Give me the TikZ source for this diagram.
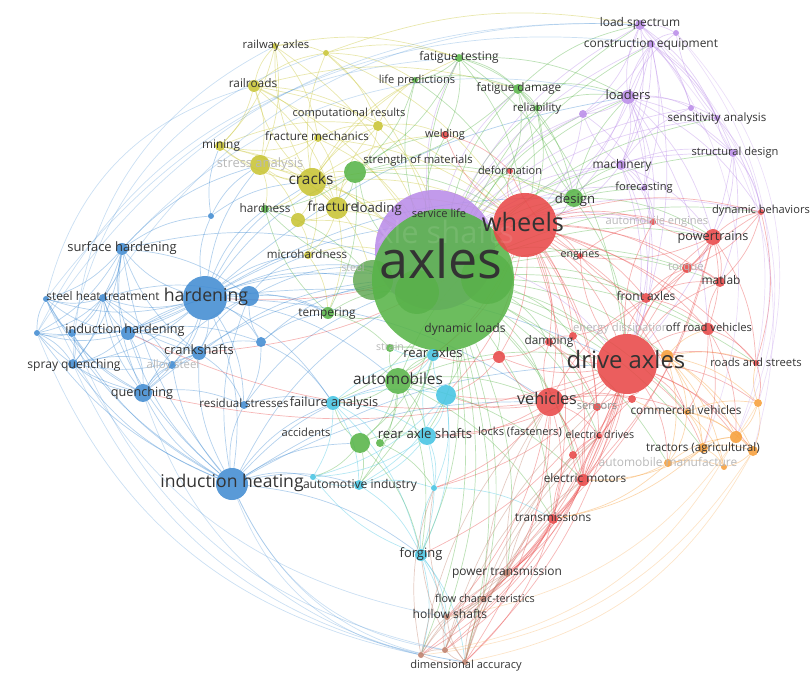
\documentclass[tikz,border=0pt]{standalone}
\usepackage{fontspec}
\setmainfont{Open Sans}
\usepackage{xcolor}
\definecolor{vgreen}{RGB}{88,180,72}
\definecolor{vred}{RGB}{232,72,72}
\definecolor{vblue}{RGB}{66,140,210}
\definecolor{vyellow}{RGB}{200,196,52}
\definecolor{vpurple}{RGB}{186,140,232}
\definecolor{vcyan}{RGB}{70,196,226}
\definecolor{vorange}{RGB}{246,158,58}
\definecolor{vbrown}{RGB}{190,126,106}
\usepackage{tikz}
\usetikzlibrary{backgrounds}

\begin{document}
\begin{tikzpicture}[x=0.025cm, y=-0.025cm,
    every node/.style={inner sep=0pt},
    kw/.style={circle, fill=#1, fill opacity=0.88, draw=none},
    sub/.style={circle, fill=vgreen!88!black, fill opacity=0.75, draw=none},
    lbl/.style={font=\fontsize{#1}{#1}\selectfont, text=black!80,
                text height=1.2ex, text depth=0.2ex},
    lbl/.default=8.4,
    dim/.style={text=black!28},
    link/.style={draw=#1, line width=0.5pt, draw opacity=0.4},
    arc/.style={draw=#1, line width=0.5pt, draw opacity=0.28},
]
\useasboundingbox (0,0) rectangle (811,675);

% ---- Big bubbles ----
\node[kw=vpurple, minimum size=3.0cm] (axshafts) at (435,250) {};
\node[sub, minimum size=1.0cm] (g1) at (373,280) {};
\node[sub, minimum size=1.1cm] (g2) at (417,292) {};
\node[sub, minimum size=1.3cm] (g3) at (487,278) {};
\node[kw=vgreen,  minimum size=3.55cm] (axles) at (443,280) {};
\node[kw=vred, minimum size=1.6cm] (wheels)  at (525,225) {};
\node[kw=vred, minimum size=1.5cm] (driveax) at (627,364) {};

% ---- Blue cluster ----
\node[kw=vblue, minimum size=1.1cm]  (hardening) at (205,298) {};
\node[kw=vblue, minimum size=0.8cm]  (indheat)   at (232,484) {};
\node[kw=vblue, minimum size=0.5cm]  (b1)        at (249,296) {};
\node[kw=vblue, minimum size=0.3cm]  (surfh)     at (122,249) {};
\node[kw=vblue, minimum size=0.2cm]  (sht)       at (103,298) {};
\node[kw=vblue, minimum size=0.15cm] (heat)      at (46,299) {};
\node[kw=vblue, minimum size=0.15cm] (b2)        at (37,333) {};
\node[kw=vblue, minimum size=0.2cm]  (b3)        at (72,333) {};
\node[kw=vblue, minimum size=0.35cm] (indhard)   at (128,333) {};
\node[kw=vblue, minimum size=0.25cm] (spray)     at (73,364) {};
\node[kw=vblue, minimum size=0.35cm] (crank)     at (199,353) {};
\node[kw=vblue, minimum size=0.2cm]  (alloy)     at (172,365) {};
\node[kw=vblue, minimum size=0.25cm] (b4)        at (261,342) {};
\node[kw=vblue, minimum size=0.45cm] (quench)    at (143,393) {};
\node[kw=vblue, minimum size=0.2cm]  (resid)     at (244,405) {};
\node[kw=vblue, minimum size=0.15cm] (b5)        at (211,216) {};

% ---- Yellow cluster ----
\node[kw=vyellow, minimum size=0.7cm]  (cracks)    at (312,182) {};
\node[kw=vyellow, minimum size=0.55cm] (fracture)  at (337,208) {};
\node[kw=vyellow, minimum size=0.5cm]  (stress)    at (260,165) {};
\node[kw=vyellow, minimum size=0.35cm] (y2)        at (298,220) {};
\node[kw=vyellow, minimum size=0.15cm] (rwaxles)   at (275,46) {};
\node[kw=vyellow, minimum size=0.15cm] (y1)        at (326,53) {};
\node[kw=vyellow, minimum size=0.3cm]  (railroads) at (254,86) {};
\node[kw=vyellow, minimum size=0.25cm] (comp)      at (378,126) {};
\node[kw=vyellow, minimum size=0.2cm]  (fracmech)  at (318,138) {};
\node[kw=vyellow, minimum size=0.25cm] (mining)    at (220,146) {};
\node[kw=vyellow, minimum size=0.2cm]  (microh)    at (308,255) {};

% ---- Green cluster ----
\node[kw=vgreen, minimum size=0.55cm] (strength)  at (355,172) {};
\node[kw=vgreen, minimum size=0.65cm] (automob)   at (398,381) {};
\node[kw=vgreen, minimum size=0.45cm] (design)    at (574,198) {};
\node[kw=vgreen, minimum size=0.5cm]  (g4)        at (360,443) {};
\node[kw=vgreen, minimum size=0.2cm]  (g5)        at (380,443) {};
\node[kw=vgreen, minimum size=0.3cm]  (tempering) at (328,313) {};
\node[kw=vgreen, minimum size=0.2cm]  (hardness)  at (265,209) {};
\node[kw=vgreen, minimum size=0.2cm]  (fattest)   at (459,58) {};
\node[kw=vgreen, minimum size=0.15cm] (lifepred)  at (415,80) {};
\node[kw=vgreen, minimum size=0.25cm] (fatdam)    at (518,89) {};
\node[kw=vgreen, minimum size=0.15cm] (reliab)    at (537,108) {};
\node[kw=vgreen, minimum size=0.2cm]  (strain)    at (390,348) {};

% ---- Purple cluster ----
\node[kw=vpurple, minimum size=0.25cm] (loadspec)  at (640,25) {};
\node[kw=vpurple, minimum size=0.15cm] (p1)        at (676,33) {};
\node[kw=vpurple, minimum size=0.2cm]  (consteq)   at (651,44) {};
\node[kw=vpurple, minimum size=0.35cm] (loaders)   at (628,97) {};
\node[kw=vpurple, minimum size=0.2cm]  (p2)        at (583,114) {};
\node[kw=vpurple, minimum size=0.15cm] (p3)        at (691,108) {};
\node[kw=vpurple, minimum size=0.15cm] (sensan)    at (717,118) {};
\node[kw=vpurple, minimum size=0.2cm]  (structdes) at (733,153) {};
\node[kw=vpurple, minimum size=0.25cm] (machinery) at (621,165) {};
\node[kw=vpurple, minimum size=0.15cm] (forecast)  at (644,188) {};

% ---- Red cluster ----
\node[kw=vred, minimum size=0.7cm]  (vehicles) at (550,402) {};
\node[kw=vred, minimum size=0.4cm]  (powertr)  at (713,237) {};
\node[kw=vred, minimum size=0.3cm]  (r1)       at (499,357) {};
\node[kw=vred, minimum size=0.3cm]  (offroad)  at (708,329) {};
\node[kw=vred, minimum size=0.3cm]  (elmotors) at (583,480) {};
\node[kw=vred, minimum size=0.25cm] (matlab)   at (720,282) {};
\node[kw=vred, minimum size=0.25cm] (frontax)  at (646,298) {};
\node[kw=vred, minimum size=0.25cm] (torque)   at (687,268) {};
\node[kw=vred, minimum size=0.2cm]  (damping)  at (549,342) {};
\node[kw=vred, minimum size=0.2cm]  (energy)   at (573,336) {};
\node[kw=vred, minimum size=0.2cm]  (sensors)  at (597,407) {};
\node[kw=vred, minimum size=0.2cm]  (r2)       at (632,399) {};
\node[kw=vred, minimum size=0.2cm]  (r3)       at (573,455) {};
\node[kw=vred, minimum size=0.25cm] (transm)   at (553,519) {};
\node[kw=vred, minimum size=0.15cm] (eldrives) at (599,436) {};
\node[kw=vred, minimum size=0.15cm] (roads)    at (756,363) {};
\node[kw=vred, minimum size=0.15cm] (engines)  at (580,256) {};
\node[kw=vred, minimum size=0.15cm] (dynbeh)   at (761,212) {};
\node[kw=vred, minimum size=0.15cm] (autoeng)  at (653,222) {};
\node[kw=vred, minimum size=0.2cm]  (welding)  at (445,135) {};
\node[kw=vred, minimum size=0.15cm] (deform)   at (510,171) {};

% ---- Cyan cluster ----
\node[kw=vcyan, minimum size=0.35cm] (failan)    at (333,403) {};
\node[kw=vcyan, minimum size=0.5cm]  (c1)        at (446,395) {};
\node[kw=vcyan, minimum size=0.45cm] (raxshafts) at (427,436) {};
\node[kw=vcyan, minimum size=0.3cm]  (rearaxles) at (433,355) {};
\node[kw=vcyan, minimum size=0.25cm] (autoind)   at (359,485) {};
\node[kw=vcyan, minimum size=0.15cm] (c2)        at (313,477) {};
\node[kw=vcyan, minimum size=0.15cm] (c3)        at (434,488) {};
\node[kw=vcyan, minimum size=0.3cm]  (forging)   at (421,555) {};

% ---- Orange cluster ----
\node[kw=vorange, minimum size=0.3cm]  (o1)       at (667,356) {};
\node[kw=vorange, minimum size=0.15cm] (commveh)  at (687,412) {};
\node[kw=vorange, minimum size=0.2cm]  (o2)       at (758,403) {};
\node[kw=vorange, minimum size=0.25cm] (tractors) at (703,448) {};
\node[kw=vorange, minimum size=0.3cm]  (t2)       at (736,437) {};
\node[kw=vorange, minimum size=0.25cm] (t3)       at (753,451) {};
\node[kw=vorange, minimum size=0.2cm]  (automan)  at (668,463) {};
\node[kw=vorange, minimum size=0.15cm] (t4)       at (724,467) {};

% ---- Brown cluster ----
\node[kw=vbrown, minimum size=0.2cm]  (powtrans) at (507,573) {};
\node[kw=vbrown, minimum size=0.15cm] (flowch)   at (483,599) {};
\node[kw=vbrown, minimum size=0.15cm] (hollow)   at (447,617) {};
\node[kw=vbrown, minimum size=0.15cm] (d1)       at (421,655) {};
\node[kw=vbrown, minimum size=0.15cm] (d2)       at (445,650) {};
\node[kw=vbrown, minimum size=0.15cm] (dimacc)   at (465,662) {};

% ---- Links ----
\begin{scope}[on background layer]
\foreach \a/\b in {hardening/surfh, hardening/sht, hardening/heat, hardening/indhard, hardening/b3,
    hardening/b2, hardening/spray, hardening/crank, hardening/alloy, hardening/b4, hardening/quench,
    hardening/resid, hardening/indheat, hardening/b1, hardening/b5, hardening/axles, hardening/cracks,
    hardening/stress, hardening/microh, hardening/tempering, hardening/failan, hardening/automob,
    hardening/g1, hardening/strength, hardening/driveax, hardening/wheels, hardening/hardness,
    hardening/vehicles, hardening/loaders, hardening/design,
    indheat/surfh, indheat/sht, indheat/indhard, indheat/spray, indheat/quench, indheat/crank,
    indheat/resid, indheat/b1, indheat/axles, indheat/autoind, indheat/forging, indheat/b2, indheat/heat,
    indheat/b3, indheat/automob, indheat/alloy, indheat/failan, indheat/g4, indheat/c2,
    indheat/vehicles, indheat/driveax,
    indhard/surfh, indhard/sht, indhard/heat, indhard/b2, indhard/spray, indhard/quench, indhard/crank,
    indhard/alloy, indhard/b1, indhard/b4, indhard/axles,
    quench/sht, quench/spray, quench/b2, quench/heat, quench/crank, quench/alloy, quench/resid,
    quench/surfh, quench/b3, quench/axles, quench/b1,
    crank/b4, crank/alloy, crank/resid, crank/axles, crank/b1, crank/surfh, crank/sht, crank/spray,
    surfh/sht, surfh/heat, surfh/b2, surfh/b5, surfh/spray, surfh/b1, surfh/stress, surfh/b3, surfh/axles,
    sht/heat, sht/b2, sht/spray, sht/b3, sht/alloy, sht/b1, b3/b2, b3/spray, b3/heat, b2/spray, b2/heat,
    spray/alloy, b4/axles, b4/tempering, b4/b1, b4/failan, b4/resid, resid/failan, resid/axles,
    b1/axles, b1/tempering, b1/microh, b5/mining, b5/stress, b5/cracks}
  \draw[link=vblue] (\a) to[bend left=15] (\b);
\foreach \a/\b in {cracks/rwaxles, cracks/y1, cracks/railroads, cracks/comp, cracks/mining,
    cracks/fracmech, cracks/stress, cracks/fracture, cracks/y2, cracks/axles, cracks/strength,
    cracks/fattest, cracks/lifepred, cracks/wheels, cracks/hardness, cracks/microh, cracks/design,
    cracks/welding, cracks/g1, railroads/rwaxles, railroads/y1, railroads/mining, railroads/fracmech,
    railroads/stress, railroads/axles, railroads/comp, railroads/fatdam, railroads/wheels,
    railroads/fracture, rwaxles/y1, rwaxles/mining, rwaxles/fracmech, rwaxles/stress, rwaxles/axles,
    rwaxles/fattest, y1/comp, y1/fattest, y1/axles, y1/lifepred, y1/loadspec, y1/wheels,
    fracmech/comp, fracmech/stress, fracmech/axles, fracmech/fracture, fracmech/wheels, fracmech/mining,
    stress/mining, stress/fracture, stress/axles, stress/y2, stress/hardness, fracture/axles,
    fracture/y2, fracture/comp, fracture/strength, fracture/wheels, fracture/tempering, fracture/microh,
    mining/axles, mining/comp, mining/fracture, comp/axles, comp/lifepred, comp/welding, comp/strength,
    y2/axles, y2/microh, microh/axles, microh/tempering}
  \draw[link=vyellow] (\a) to[bend left=15] (\b);
\foreach \a/\b in {axles/fattest, axles/lifepred, axles/fatdam, axles/reliab, axles/strength,
    axles/hardness, axles/design, axles/tempering, axles/strain, axles/automob, axles/g4, axles/g5,
    axles/welding, axles/deform, axles/wheels, axles/driveax, axles/vehicles, axles/rearaxles,
    axles/raxshafts, axles/c1, axles/failan, axles/autoind, axles/forging, axles/damping, axles/energy,
    axles/frontax, axles/engines, axles/loaders, axles/machinery, axles/consteq, axles/powertr,
    axles/offroad, axles/elmotors, axles/transm, axles/powtrans, axles/hollow, axles/dimacc,
    axles/commveh, axles/tractors, axles/sensors, axles/r1, axles/matlab, axles/torque, axles/dynbeh,
    axles/structdes, axles/loadspec, axles/o1, axles/roads, axles/eldrives, axles/r3, axles/d1,
    axles/flowch, axles/automan, axles/p2, axles/forecast, axles/sensan,
    fattest/lifepred, fattest/fatdam, fattest/strength, fattest/design, fattest/reliab, fattest/wheels,
    fattest/welding, fattest/loaders, fatdam/reliab, fatdam/design, fatdam/wheels, fatdam/strength,
    fatdam/loadspec, fatdam/loaders, fatdam/driveax, fatdam/deform, lifepred/strength,
    lifepred/wheels, lifepred/fatdam, strength/hardness, strength/fracture, strength/tempering,
    strength/design, strength/wheels, strength/welding, automob/g4, automob/g5, automob/raxshafts,
    automob/failan, automob/c1, automob/vehicles, automob/driveax, automob/strain, automob/autoind,
    automob/elmotors, automob/wheels, automob/rearaxles, automob/forging, automob/transm,
    design/wheels, design/reliab, design/machinery, design/driveax, design/deform, design/loaders,
    design/powertr, design/forecast, g4/raxshafts, g4/autoind, g4/failan, g4/c2, g4/forging, g5/c3,
    g5/raxshafts, tempering/hardness, tempering/strain, tempering/g2, hardness/g1, strain/rearaxles,
    reliab/wheels, reliab/loaders}
  \draw[link=vgreen] (\a) to[bend left=15] (\b);
\foreach \a/\b in {axshafts/loadspec, axshafts/consteq, axshafts/loaders, axshafts/p2, axshafts/p3,
    axshafts/sensan, axshafts/structdes, axshafts/machinery, axshafts/forecast, axshafts/wheels,
    axshafts/driveax, axshafts/fatdam, axshafts/dynbeh, axshafts/powertr, axshafts/autoeng,
    axshafts/fattest, loaders/loadspec, loaders/p1, loaders/consteq, loaders/p2, loaders/p3,
    loaders/sensan, loaders/structdes, loaders/machinery, loaders/forecast, loaders/wheels,
    loaders/driveax, loaders/offroad, loaders/dynbeh, loaders/autoeng, loaders/powertr,
    consteq/loadspec, consteq/p1, consteq/p3, consteq/sensan, consteq/machinery, consteq/structdes,
    consteq/forecast, consteq/p2, consteq/driveax, consteq/wheels, consteq/design, loadspec/p1,
    loadspec/p3, loadspec/sensan, loadspec/machinery, loadspec/p2, machinery/forecast, machinery/p2,
    machinery/wheels, machinery/driveax, machinery/structdes, machinery/p3, machinery/autoeng,
    machinery/powertr, machinery/frontax, structdes/sensan, structdes/p3, structdes/dynbeh,
    structdes/powertr, structdes/driveax, structdes/matlab, sensan/p3, sensan/p1, sensan/dynbeh,
    p2/forecast, p2/wheels, forecast/autoeng, forecast/driveax}
  \draw[link=vpurple] (\a) to[bend left=15] (\b);
\foreach \a/\b in {wheels/driveax, wheels/vehicles, wheels/deform, wheels/welding, wheels/engines,
    wheels/damping, wheels/frontax, wheels/powertr, wheels/dynbeh, wheels/torque, wheels/matlab,
    wheels/r1, wheels/energy, wheels/sensors, wheels/elmotors, wheels/transm, wheels/autoeng,
    wheels/offroad, wheels/rearaxles, wheels/c1, wheels/automob, wheels/roads, wheels/eldrives,
    wheels/o1, wheels/commveh, driveax/vehicles, driveax/frontax, driveax/offroad, driveax/roads,
    driveax/powertr, driveax/matlab, driveax/torque, driveax/energy, driveax/damping, driveax/r1,
    driveax/r2, driveax/sensors, driveax/eldrives, driveax/r3, driveax/elmotors, driveax/transm,
    driveax/powtrans, driveax/flowch, driveax/hollow, driveax/dimacc, driveax/d1, driveax/d2,
    driveax/o1, driveax/commveh, driveax/tractors, driveax/automan, driveax/o2, driveax/t2, driveax/t3,
    driveax/dynbeh, driveax/autoeng, driveax/engines, driveax/forging, driveax/raxshafts, driveax/c1,
    driveax/c3, vehicles/sensors, vehicles/eldrives, vehicles/r3, vehicles/elmotors, vehicles/transm,
    vehicles/damping, vehicles/r1, vehicles/r2, vehicles/powtrans, vehicles/frontax, vehicles/c1,
    vehicles/raxshafts, vehicles/c3, vehicles/hollow, vehicles/dimacc, vehicles/commveh,
    powertr/dynbeh, powertr/torque, powertr/matlab, powertr/frontax, powertr/offroad, powertr/roads,
    powertr/autoeng, powertr/elmotors, powertr/transm, powertr/engines, elmotors/transm,
    elmotors/eldrives, elmotors/r3, elmotors/r2, elmotors/powtrans, elmotors/sensors, elmotors/d2,
    transm/powtrans, transm/flowch, transm/hollow, transm/dimacc, transm/r3, transm/d1, transm/eldrives,
    frontax/offroad, frontax/matlab, frontax/torque, frontax/energy, frontax/engines, offroad/roads,
    offroad/matlab, offroad/commveh, offroad/tractors, offroad/t2, damping/energy, damping/r1,
    damping/sensors, dynbeh/roads, dynbeh/matlab, dynbeh/torque, engines/autoeng, engines/deform,
    welding/deform, r1/rearaxles, r1/c1, r2/sensors, r3/eldrives, torque/matlab, roads/o2,
    wheels/hardening, wheels/crank, driveax/quench, vehicles/indhard}
  \draw[link=vred] (\a) to[bend left=15] (\b);
\foreach \a/\b in {o1/commveh, o1/tractors, o1/automan, o1/o2, o1/t2, o1/t3, o1/offroad, o1/t4,
    o1/roads, commveh/o2, commveh/tractors, commveh/t2, commveh/t3, commveh/automan, commveh/t4,
    commveh/r2, tractors/t2, tractors/t3, tractors/automan, tractors/t4, tractors/elmotors,
    tractors/transm, automan/t4, automan/t2, automan/transm, automan/elmotors, o2/t2, o2/t3, o2/roads,
    t2/t3, t3/t4}
  \draw[link=vorange] (\a) to[bend left=15] (\b);
\foreach \a/\b in {failan/c1, failan/raxshafts, failan/autoind, failan/c2, failan/forging,
    failan/rearaxles, failan/g5, c1/raxshafts, c1/rearaxles, c1/autoind, c1/c3, c1/forging, c1/c2,
    raxshafts/autoind, raxshafts/c3, raxshafts/forging, raxshafts/c2, raxshafts/rearaxles,
    autoind/forging, autoind/c2, autoind/c3, forging/c3, forging/hollow, forging/dimacc, forging/d1,
    forging/d2, forging/c2, rearaxles/automob, rearaxles/strain, c3/transm}
  \draw[link=vcyan] (\a) to[bend left=15] (\b);
\foreach \a/\b in {dimacc/hollow, dimacc/flowch, dimacc/powtrans, dimacc/d1, dimacc/d2,
    dimacc/forging, dimacc/transm, dimacc/elmotors, dimacc/r3, dimacc/eldrives, d1/hollow, d1/flowch,
    d1/powtrans, d1/vehicles, d1/d2, d1/c3, d2/hollow, d2/flowch, d2/powtrans, d2/eldrives, d2/sensors,
    powtrans/flowch, powtrans/hollow, powtrans/elmotors, powtrans/vehicles, powtrans/r3,
    flowch/hollow, flowch/vehicles, hollow/c3}
  \draw[link=vbrown] (\a) to[bend left=15] (\b);
% long arcs round the outside
\foreach \a/\b in {dimacc/indheat, d1/indheat, d2/indheat, d1/quench, dimacc/spray, d1/b2,
    d2/b3, hollow/heat}
  \draw[arc=vblue] (\a) to[bend left=28] (\b);
\foreach \a/\b in {b2/loadspec, heat/consteq, sht/loadspec, b2/fattest, surfh/loaders,
    heat/railroads, b3/y1, spray/rwaxles}
  \draw[arc=vblue] (\a) to[bend left=30] (\b);
\foreach \a/\b in {loadspec/tractors, consteq/t3, p1/o2, loadspec/roads, sensan/t2, p1/t2}
  \draw[arc=vpurple] (\a) to[bend left=30] (\b);
\foreach \a/\b in {t3/dimacc, t2/d2, o2/hollow, t3/d1}
  \draw[arc=vorange] (\a) to[bend left=25] (\b);
\end{scope}

% ---- Labels ----
\node[lbl=22, text=white, text opacity=0.1] (t-axshafts) at (437,240) {axle shafts};
\node[lbl=37] (t-axles)    at (441,275) {axles};
\node[lbl=18] (t-wheels)   at (523,228) {wheels};
\node[lbl=17] (t-driveax)  at (626,365) {drive axles};
\node[lbl=12.6] (t-hardening) at (206,298) {hardening};
\node[lbl=12.5] (t-indheat)   at (232,484) {induction heating};
\node[lbl=11]   (t-cracks)    at (311,181) {cracks};
\node[lbl=11]   (t-automob)   at (398,381) {automobiles};
\node[lbl=11.5] (t-vehicles)  at (547,401) {vehicles};
\node[lbl=9.8]  (t-fracture)  at (333,208) {fracture};
\node[lbl=9.4]  (t-loading)   at (379,209) {loading};
\node[lbl=9.3]  (t-design)    at (575,200) {design};
\node[lbl=9.4]  (t-raxshafts) at (425,435) {rear axle shafts};
\node[lbl=9.2]  (t-surfh)     at (122,248) {surface hardening};
\node[lbl=9.2]  (t-forging)   at (421,554) {forging};
\node[lbl=9]    (t-indhard)   at (125,330) {induction hardening};
\node[lbl=9]    (t-quench)    at (142,393) {quenching};
\node[lbl=9.2]  (t-crank)     at (199,351) {crankshafts};
\node[lbl=9.2]  (t-loaders)   at (628,96) {loaders};
\node[lbl=9.3]  (t-rearaxles) at (433,354) {rear axles};
\node[lbl=9.2, dim] (t-stress) at (260,164) {stress analysis};
\node[lbl=9.1]  (t-failan)    at (334,403) {failure analysis};
\node[lbl=9]    (t-powertr)   at (713,237) {powertrains};
\node[lbl=8]    (t-rwaxles)   at (276,45) {railway axles};
\node[lbl]      (t-railroads) at (253,84) {railroads};
\node[lbl=7.9]  (t-comp)      at (349,113) {computational results};
\node[lbl=8.3]  (t-fracmech)  at (317,137) {fracture mechanics};
\node[lbl]      (t-mining)    at (221,145) {mining};
\node[lbl=8]    (t-strength)  at (418,160) {strength of materials};
\node[lbl]      (t-hardness)  at (265,209) {hardness};
\node[lbl=8.2]  (t-microh)    at (307,255) {microhardness};
\node[lbl=7.4, dim] (t-steel) at (353,268) {steel};
\node[lbl]      (t-tempering) at (327,313) {tempering};
\node[lbl=7.5, dim] (t-strain) at (390,347) {strain};
\node[lbl=8.5]  (t-fattest)   at (459,57) {fatigue testing};
\node[lbl=7.9]  (t-lifepred)  at (417,80) {life predictions};
\node[lbl=8.3]  (t-fatdam)    at (519,88) {fatigue damage};
\node[lbl=8.1]  (t-reliab)    at (537,108) {reliability};
\node[lbl=7.8]  (t-welding)   at (445,134) {welding};
\node[lbl=7.8]  (t-deform)    at (510,171) {deformation};
\node[lbl=7.9]  (t-servlife)  at (439,214) {service life};
\node[lbl=8.6]  (t-dynloads)  at (465,329) {dynamic loads};
\node[lbl=8.5]  (t-loadspec)  at (640,23) {load spectrum};
\node[lbl=8.5]  (t-consteq)   at (651,44) {construction equipment};
\node[lbl=8.2]  (t-sensan)    at (717,118) {sensitivity analysis};
\node[lbl=7.9]  (t-structdes) at (735,152) {structural design};
\node[lbl=8.5]  (t-machinery) at (622,165) {machinery};
\node[lbl=7.9]  (t-forecast)  at (644,187) {forecasting};
\node[lbl=7.9]  (t-dynbeh)    at (761,210) {dynamic behaviors};
\node[lbl=7.9, dim] (t-autoeng) at (657,221) {automobile engines};
\node[lbl=7.6]  (t-engines)   at (580,254) {engines};
\node[lbl=8.1, dim] (t-torque) at (686,267) {torque};
\node[lbl=8.5]  (t-matlab)    at (721,281) {matlab};
\node[lbl=8.5]  (t-frontax)   at (646,297) {front axles};
\node[lbl=8, dim] (t-energy)  at (621,328) {energy dissipation};
\node[lbl=8]    (t-offroad)   at (709,328) {off road vehicles};
\node[lbl]      (t-damping)   at (549,341) {damping};
\node[lbl=8]    (t-roads)     at (756,363) {roads and streets};
\node[lbl=7.9, text=black!45] (t-sensors) at (597,406) {sensors};
\node[lbl]      (t-commveh)   at (686,411) {commercial vehicles};
\node[lbl=7.6]  (t-eldrives)  at (600,435) {electric drives};
\node[lbl=7.9]  (t-locks)     at (520,432) {locks (fasteners)};
\node[lbl=8.3]  (t-tractors)  at (703,448) {tractors (agricultural)};
\node[lbl=8.5, dim] (t-automan) at (668,463) {automobile manufacture};
\node[lbl]      (t-elmotors)  at (585,479) {electric motors};
\node[lbl]      (t-transm)    at (553,518) {transmissions};
\node[lbl=7.9]  (t-accidents) at (306,433) {accidents};
\node[lbl=8.6]  (t-autoind)   at (360,485) {automotive industry};
\node[lbl=8.5]  (t-powtrans)  at (507,572) {power transmission};
\node[lbl=7.7]  (t-flowch)    at (485,599) {flow charac-teristics};
\node[lbl=8.6]  (t-hollow)    at (450,615) {hollow shafts};
\node[lbl=7.9]  (t-dimacc)    at (466,665) {dimensional accuracy};
\node[lbl=8.5]  (t-sht)       at (103,297) {steel heat treatment};
\node[lbl=8.6]  (t-spray)     at (74,365) {spray quenching};
\node[lbl=8.1, dim] (t-alloy) at (173,365) {alloy steel};
\node[lbl=8.2]  (t-resid)     at (244,404) {residual stresses};

\end{tikzpicture}
\end{document}
